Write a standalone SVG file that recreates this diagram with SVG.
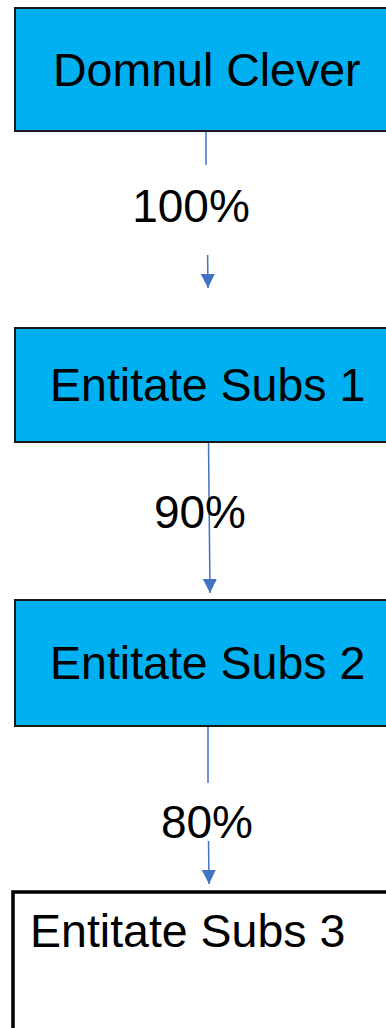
<svg xmlns="http://www.w3.org/2000/svg" width="386" height="1028" viewBox="0 0 386 1028">
<defs>
<style>
.box{fill:#00B0F0;stroke:#1a1a1a;stroke-width:2}
.wbox{fill:#ffffff;stroke:#000000;stroke-width:3.5}
.t{font-family:"Liberation Sans",Arial,sans-serif;font-size:46.5px;fill:#000000}
.lbl{font-family:"Liberation Sans",Arial,sans-serif;font-size:46px;fill:#000000;text-anchor:middle}
.con{stroke:#4472C4;stroke-width:1.5;fill:none}
</style>
<marker id="arr" viewBox="0 0 10 10" refX="10" refY="5" markerWidth="14" markerHeight="14" markerUnits="userSpaceOnUse" orient="auto">
<path d="M0,0 L10,5 L0,10 z" fill="#4472C4"/>
</marker>
</defs>
<rect width="386" height="1028" fill="#ffffff"/>
<g id="connectors">
<line class="con" x1="206" y1="131" x2="206" y2="165"/>
<line class="con" x1="207.6" y1="255" x2="208" y2="288" marker-end="url(#arr)"/>
<line class="con" x1="208.5" y1="442" x2="210" y2="593" marker-end="url(#arr)"/>
<line class="con" x1="208" y1="726" x2="208" y2="783"/>
<line class="con" x1="208.5" y1="841" x2="209" y2="884" marker-end="url(#arr)"/>
</g>
<g id="node1">
<rect class="box" x="15" y="8" width="380" height="123"/>
<text class="t" x="53" y="86">Domnul Clever</text>
</g>
<g id="label1"><text class="lbl" x="191" y="222">100%</text></g>
<g id="node2">
<rect class="box" x="15" y="328" width="380" height="114"/>
<text class="t" x="50" y="401">Entitate Subs 1</text>
</g>
<g id="label2"><text class="lbl" x="200" y="528">90%</text></g>
<g id="node3">
<rect class="box" x="15" y="600" width="380" height="126"/>
<text class="t" x="50" y="679">Entitate Subs 2</text>
</g>
<g id="label3"><text class="lbl" x="207" y="838">80%</text></g>
<g id="node4">
<rect class="wbox" x="13" y="892" width="380" height="140"/>
<text class="t" x="30" y="947">Entitate Subs 3</text>
</g>
</svg>
